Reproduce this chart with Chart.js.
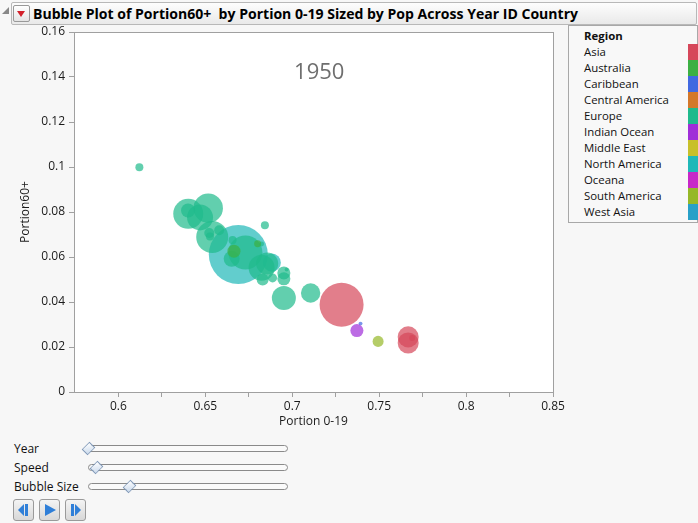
<!DOCTYPE html>
<html>
<head>
<meta charset="utf-8">
<script src="https://cdn.jsdelivr.net/npm/chart.js@4.4.1/dist/chart.umd.min.js"></script>
<style>
  body { margin: 0; background: #f7f7f7; font-family: 'Open Sans', sans-serif; color: #111; }
  #page { position: relative; width: 698px; height: 523px; overflow: hidden; }
  #titlebar { position: absolute; left: 11px; top: 2px; width: 684px; height: 21px;
    border: 1px solid #b8b8b8; border-radius: 2px;
    background: linear-gradient(#fdfdfd, #e9e9e9); }
  #disclose { position: absolute; left: 2px; top: 7px; width: 0; height: 0;
    border-left: 7px solid transparent; border-bottom: 7px solid #888; }
  #redbtn { position: absolute; left: 13px; top: 5px; width: 15px; height: 15px;
    border: 1px solid #999; border-radius: 2px; background: linear-gradient(#fff, #e4e4e4); }
  #redbtn:after { content: ''; position: absolute; left: 3px; top: 5px; width: 0; height: 0;
    border-left: 4.5px solid transparent; border-right: 4.5px solid transparent; border-top: 6px solid #d2202a; }
  #title { position: absolute; left: 33px; top: 3px; font-weight: bold; font-size: 15px;
    white-space: nowrap; transform-origin: left top; color: #000; }
  #chartCanvas { position: absolute; left: 0; top: 0; }
  #legend { position: absolute; left: 568px; top: 25px; width: 128px; height: 196px;
    border: 1px solid #a8a8a8; background: #f8f8f8; font-size: 11.4px; }
  #legend .hdr { position: absolute; left: 15px; top: 2px; font-weight: bold; }
  #legend .row { position: absolute; left: 15px; height: 16px; line-height: 16px; width: 113px; }
  #legend .sw { position: absolute; left: 104px; top: 0; width: 13px; height: 16px; }
  .lbl { position: absolute; left: 14px; font-size: 12px; }
  .track { position: absolute; height: 5px; border: 1px solid #8a8a8a; border-radius: 4px; background: #fafafa; }
  .thumb { position: absolute; width: 9px; height: 9px; transform: rotate(45deg) scaleX(0.75);
    border: 1px solid #7f98b8; background: linear-gradient(135deg, #ffffff, #c9d9ec); }
  .btn { position: absolute; top: 499px; width: 19px; height: 20px; border: 1px solid #9a9a9a;
    border-radius: 3px; background: linear-gradient(#f4f4f4, #d8d8d8); }
  .btn svg { position: absolute; left: 2px; top: 2px; }
</style>
</head>
<body>
<div id="page">
  <div id="disclose"></div>
  <div id="titlebar"></div>
  <div id="redbtn"></div>
  <div id="title">Bubble Plot of Portion60+&nbsp; by Portion 0-19 Sized by Pop Across Year ID Country</div>
  <canvas id="chartCanvas" width="590" height="430" style="width:590px;height:430px"></canvas>
  <div id="legend"></div>

  <div class="lbl" style="top:440px">Year</div>
  <div class="lbl" style="top:459px">Speed</div>
  <div class="lbl" style="top:478px">Bubble Size</div>
  <div class="track" style="left:87px;top:445px;width:199px"></div>
  <div class="track" style="left:88px;top:464px;width:198px"></div>
  <div class="track" style="left:88px;top:483px;width:198px"></div>
  <div class="thumb" style="left:83px;top:443px"></div>
  <div class="thumb" style="left:91px;top:462px"></div>
  <div class="thumb" style="left:124px;top:481px"></div>

  <div class="btn" style="left:13px">
    <svg width="16" height="16"><rect x="9" y="2" width="3" height="12" fill="#2f7fd8"/><polygon points="8,2 8,14 2,8" fill="#2f7fd8"/></svg>
  </div>
  <div class="btn" style="left:39px">
    <svg width="16" height="16"><polygon points="3,2 3,14 14,8" fill="#2f7fd8"/></svg>
  </div>
  <div class="btn" style="left:65px">
    <svg width="16" height="16"><rect x="3" y="2" width="3" height="12" fill="#2f7fd8"/><polygon points="7,2 7,14 13,8" fill="#2f7fd8"/></svg>
  </div>
</div>

<script>
// Region list and legend colours
const regions = ['Asia', 'Australia', 'Caribbean', 'Central America', 'Europe', 'Indian Ocean',
                 'Middle East', 'North America', 'Oceana', 'South America', 'West Asia'];
const regionColors = ['#d6475a', '#3cb043', '#4169e1', '#d4782a', '#20ba8c', '#a02ed8',
                      '#c8c02a', '#20b8b8', '#c828c8', '#96b828', '#28a0c8'];

// Year 1950 values
const yearLabel = '1950';
const countryRegion = [
  'Europe','Europe','Europe','Europe','Europe','Europe','Europe','Europe','Europe','Europe',
  'Europe','Europe','Europe','Europe','Europe','Europe','Europe','Europe','Europe','Europe',
  'Europe','Europe','Europe',
  'Australia','Australia',
  'North America','North America',
  'Asia','Asia','Asia','Asia',
  'Caribbean','Indian Ocean','South America'
];
const portion019 = [
  0.6121, 0.6402, 0.6517, 0.6470, 0.6401, 0.6540, 0.6523, 0.6580, 0.6527, 0.6657,
  0.6652, 0.6731, 0.6843, 0.6824, 0.6856, 0.6830, 0.6887, 0.6952, 0.6952, 0.6968,
  0.6952, 0.7106, 0.6824,
  0.6665, 0.6801,
  0.6690, 0.6883,
  0.7284, 0.7667, 0.7667, 0.7690,
  0.7393, 0.7372, 0.7494
];
const portion60 = [
  0.0999, 0.0792, 0.0817, 0.0776, 0.0807, 0.0689, 0.0707, 0.0719, 0.0691, 0.0675,
  0.0592, 0.0620, 0.0741, 0.0552, 0.0571, 0.0500, 0.0507, 0.0529, 0.0503, 0.0544,
  0.0418, 0.0440, 0.0658,
  0.0626, 0.0659,
  0.0611, 0.0575,
  0.0388, 0.0245, 0.0218, 0.0240,
  0.0304, 0.0273, 0.0225
];
const pop = [ // millions
  2.9, 40.7, 39.1, 30.6, 8.9, 46.4, 4.5, 4.5, 2.9, 2.9,
  11.6, 52.3, 2.9, 30.6, 21.9, 6.5, 3.7, 7.7, 7.7, 0.7,
  26.1, 17.0, 1.1,
  7.7, 2.2,
  157.6, 14.7,
  87.6, 20.0, 20.0, 1.6,
  0.7, 7.7, 5.5
];

// Axis ticks
const xTicks = [0.6, 0.625, 0.65, 0.675, 0.7, 0.725, 0.75, 0.775, 0.8, 0.825, 0.85];
const xLabelTicks = [0.6, 0.65, 0.7, 0.75, 0.8, 0.85];
const yTicks = [0, 0.02, 0.04, 0.06, 0.08, 0.1, 0.12, 0.14, 0.16];

const bubbleScale = 2.35; // pixels per sqrt(million)
const axisColor = '#a0a0a0';
const tickFont = { family: "'Open Sans', sans-serif", size: 12 };

function withAlpha(hex, a) {
    const n = parseInt(hex.slice(1), 16);
    return `rgba(${n >> 16},${(n >> 8) & 255},${n & 255},${a})`;
}

// Fit the title to its width
const titleEl = document.getElementById('title');
titleEl.style.transform = `scaleX(${545 / titleEl.offsetWidth})`;

// Legend
const legendEl = document.getElementById('legend');
legendEl.innerHTML = '<div class="hdr">Region</div>' + regions.map((r, i) =>
    `<div class="row" style="top:${18 + i * 16}px">${r}<div class="sw" style="background:${regionColors[i]}"></div></div>`
).join('');

// Datasets: one per region, big ones drawn underneath
const drawOrder = ['North America', 'Europe', 'Asia', 'Caribbean', 'Indian Ocean', 'South America', 'Australia'];
const datasets = drawOrder.map((reg, k) => {
    const ci = regions.indexOf(reg);
    const pts = [];
    countryRegion.forEach((r, i) => {
        if (r === reg) pts.push({ x: portion019[i], y: portion60[i], r: bubbleScale * Math.sqrt(pop[i]) });
    });
    return {
        label: reg,
        data: pts,
        order: drawOrder.length - k,
        backgroundColor: withAlpha(regionColors[ci], 0.7),
        borderWidth: 0,
        hoverBorderWidth: 0
    };
});

const framePlugin = {
    id: 'frame',
    beforeDatasetsDraw(chart) {
        const { ctx, chartArea: a } = chart;
        ctx.save();
        ctx.fillStyle = '#ffffff';
        ctx.fillRect(a.left, a.top, a.right - a.left, a.bottom - a.top);
        ctx.fillStyle = '#6e6e6e';
        ctx.font = "22px 'Open Sans', sans-serif";
        ctx.textAlign = 'center';
        ctx.textBaseline = 'middle';
        ctx.fillText(yearLabel, a.left + (a.right - a.left) * 0.512, a.top + 41);
        ctx.restore();
    },
    afterDraw(chart) {
        const { ctx, chartArea: a } = chart;
        ctx.save();
        ctx.strokeStyle = axisColor;
        ctx.lineWidth = 1;
        ctx.strokeRect(Math.round(a.left) + 0.5, Math.round(a.top) + 0.5,
                       Math.round(a.right - a.left), Math.round(a.bottom - a.top));
        ctx.restore();
    }
};

// Canvas is 590 wide: right padding 37 leaves room for the largest bubble overflow
new Chart(document.getElementById('chartCanvas'), {
    type: 'bubble',
    data: { datasets: datasets },
    options: {
        responsive: false,
        animation: false,
        layout: { padding: { left: 0, top: 32, right: 37, bottom: 0 } },
        plugins: { legend: { display: false }, tooltip: { enabled: false } },
        scales: {
            x: {
                type: 'linear',
                min: 0.5745, max: 0.85,
                afterBuildTicks: s => { s.ticks = xTicks.map(v => ({ value: v })); },
                afterFit: s => { s.height = 38; },
                ticks: {
                    autoSkip: false, maxRotation: 0, padding: 2, color: '#1a1a1a', font: tickFont,
                    callback: v => xLabelTicks.some(t => Math.abs(t - v) < 1e-9) ? String(+v.toFixed(3)) : ''
                },
                grid: { drawOnChartArea: false, color: axisColor, tickLength: 5 },
                border: { color: axisColor },
                title: { display: true, text: 'Portion 0-19', color: '#1a1a1a', font: tickFont, padding: { top: 0, bottom: 1 } }
            },
            y: {
                type: 'linear',
                min: 0, max: 0.16,
                afterBuildTicks: s => { s.ticks = yTicks.map(v => ({ value: v })); },
                afterFit: s => { s.width = 74; },
                ticks: {
                    autoSkip: false, padding: 4, color: '#1a1a1a', font: tickFont,
                    callback: v => String(+v.toFixed(3))
                },
                grid: { drawOnChartArea: false, color: axisColor, tickLength: 5 },
                border: { color: axisColor },
                title: { display: true, text: 'Portion60+', color: '#1a1a1a', font: tickFont, padding: { top: 18, bottom: 0 } }
            }
        }
    },
    plugins: [framePlugin]
});
</script>
</body>
</html>
